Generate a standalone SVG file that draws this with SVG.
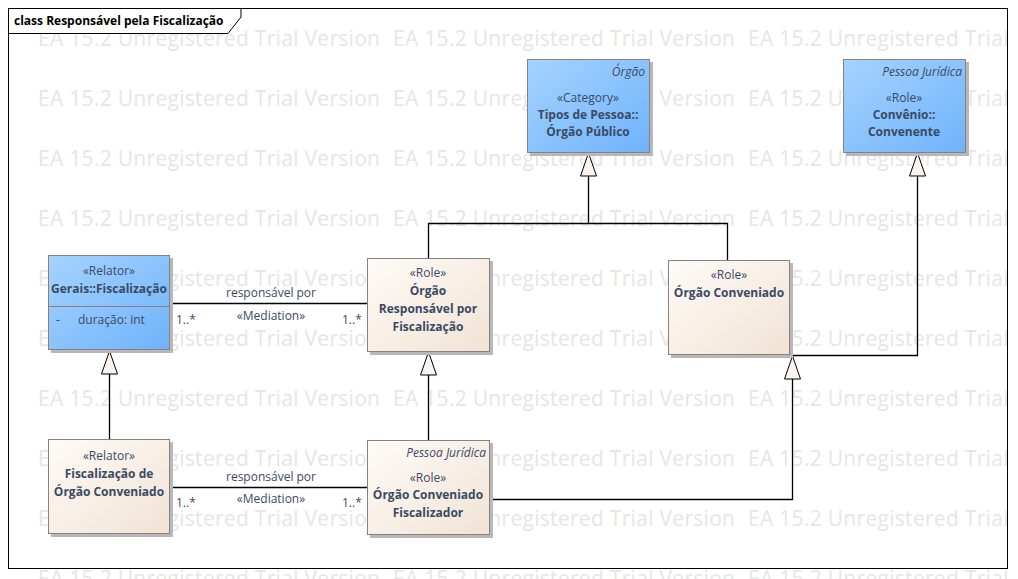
<svg xmlns="http://www.w3.org/2000/svg" width="1018" height="579" viewBox="0 0 1018 579">
<defs>
<linearGradient id="blue" x1="0" y1="0" x2="1" y2="1"><stop offset="0" stop-color="#a6d3ff"/><stop offset="1" stop-color="#6fb3fb"/></linearGradient>
<linearGradient id="beige" x1="0" y1="0" x2="1" y2="1"><stop offset="0" stop-color="#fefbf7"/><stop offset="1" stop-color="#f1e3d5"/></linearGradient>
<clipPath id="wm"><rect x="8" y="8" width="1000" height="571"/></clipPath>
<marker id="gen" markerWidth="26" markerHeight="18" refX="24" refY="9" orient="auto" markerUnits="userSpaceOnUse" viewBox="0 0 26 18"><path d="M24,9 L1,1 L1,17 Z" fill="#fbf3ee" stroke="#000" stroke-width="1"/></marker>
</defs>
<style>
.wm{font-family:"Open Sans",sans-serif;font-size:21px;fill:#e6e6e6}
.box{stroke:#8c7f7f;stroke-width:1}
.sh{fill:#b8b8b8}
.t{font-family:"Open Sans","Noto Sans",sans-serif;font-size:12px;fill:#3b4a63;text-anchor:middle}
.b{font-weight:bold}
.i{font-style:italic;text-anchor:end}
.l{font-family:"Open Sans","Noto Sans",sans-serif;font-size:12px;fill:#3b4a63}
.c{fill:none;stroke:#000;stroke-width:1.3}
</style>
<rect width="1018" height="579" fill="#fff"/>
<g clip-path="url(#wm)">
<g class="wm">
<text x="38" y="46" textLength="342">EA 15.2 Unregistered Trial Version</text><text x="393" y="46" textLength="342">EA 15.2 Unregistered Trial Version</text><text x="748" y="46" textLength="342">EA 15.2 Unregistered Trial Version</text>
<text x="38" y="106" textLength="342">EA 15.2 Unregistered Trial Version</text><text x="393" y="106" textLength="342">EA 15.2 Unregistered Trial Version</text><text x="748" y="106" textLength="342">EA 15.2 Unregistered Trial Version</text>
<text x="38" y="166" textLength="342">EA 15.2 Unregistered Trial Version</text><text x="393" y="166" textLength="342">EA 15.2 Unregistered Trial Version</text><text x="748" y="166" textLength="342">EA 15.2 Unregistered Trial Version</text>
<text x="38" y="226" textLength="342">EA 15.2 Unregistered Trial Version</text><text x="393" y="226" textLength="342">EA 15.2 Unregistered Trial Version</text><text x="748" y="226" textLength="342">EA 15.2 Unregistered Trial Version</text>
<text x="38" y="286" textLength="342">EA 15.2 Unregistered Trial Version</text><text x="393" y="286" textLength="342">EA 15.2 Unregistered Trial Version</text><text x="748" y="286" textLength="342">EA 15.2 Unregistered Trial Version</text>
<text x="38" y="346" textLength="342">EA 15.2 Unregistered Trial Version</text><text x="393" y="346" textLength="342">EA 15.2 Unregistered Trial Version</text><text x="748" y="346" textLength="342">EA 15.2 Unregistered Trial Version</text>
<text x="38" y="406" textLength="342">EA 15.2 Unregistered Trial Version</text><text x="393" y="406" textLength="342">EA 15.2 Unregistered Trial Version</text><text x="748" y="406" textLength="342">EA 15.2 Unregistered Trial Version</text>
<text x="38" y="466" textLength="342">EA 15.2 Unregistered Trial Version</text><text x="393" y="466" textLength="342">EA 15.2 Unregistered Trial Version</text><text x="748" y="466" textLength="342">EA 15.2 Unregistered Trial Version</text>
<text x="38" y="526" textLength="342">EA 15.2 Unregistered Trial Version</text><text x="393" y="526" textLength="342">EA 15.2 Unregistered Trial Version</text><text x="748" y="526" textLength="342">EA 15.2 Unregistered Trial Version</text>
<text x="38" y="586" textLength="342">EA 15.2 Unregistered Trial Version</text><text x="393" y="586" textLength="342">EA 15.2 Unregistered Trial Version</text><text x="748" y="586" textLength="342">EA 15.2 Unregistered Trial Version</text>
</g>
</g>
<rect x="8.5" y="8.5" width="999" height="560" fill="none" stroke="#000" stroke-width="1"/>
<path d="M9,9 H240.5 V17 L228,33 H9 Z" fill="#fff"/>
<path d="M8.5,33.5 H228 L241,17 V8.5" fill="none" stroke="#000" stroke-width="1"/>
<text x="14" y="25" style="font-family:'Open Sans','Noto Sans',sans-serif;font-size:12px;font-weight:bold;fill:#000">class Responsável pela Fiscalização</text>

<g id="connectors">
<path class="c" d="M170,303.5 H367"/>
<path class="c" d="M170,487.5 H367"/>
<path class="c" d="M428.5,258 V223.5 H727.5 V260"/>
<path class="c" d="M588.5,223.5 V153" marker-end="url(#gen)"/>
<path class="c" d="M109.5,439 V351" marker-end="url(#gen)"/>
<path class="c" d="M428.5,440 V352" marker-end="url(#gen)"/>
<path class="c" d="M490,499.5 H792.5 V356" marker-end="url(#gen)"/>
<path class="c" d="M790,355.5 H917.5 V153" marker-end="url(#gen)"/>
<g class="l">
<text x="271" y="297" text-anchor="middle">responsável por</text>
<text x="271" y="320" text-anchor="middle">«Mediation»</text>
<text x="176" y="324">1..*</text>
<text x="342" y="324">1..*</text>
<text x="271" y="481" text-anchor="middle">responsável por</text>
<text x="271" y="503" text-anchor="middle">«Mediation»</text>
<text x="176" y="507">1..*</text>
<text x="342" y="507">1..*</text>
</g>
</g>

<g id="gerais-fiscalizacao">
<rect class="sh" x="51" y="258" width="122" height="95"/>
<rect class="box" x="48.5" y="255.5" width="121" height="94" fill="url(#blue)"/>
<line x1="48.5" y1="306.5" x2="169.5" y2="306.5" stroke="#8c7f7f"/>
<text class="t" x="109" y="275">«Relator»</text>
<text class="t b" x="109" y="293">Gerais::Fiscalização</text>
<text class="l" x="56" y="324">-</text>
<text class="l" x="78" y="324">duração: int</text>
</g>

<g id="orgao-responsavel">
<rect class="sh" x="370" y="261" width="123" height="94"/>
<rect class="box" x="367.5" y="258.5" width="122" height="93" fill="url(#beige)"/>
<text class="t" x="428" y="277">«Role»</text>
<text class="t b" x="428" y="295">Órgão</text>
<text class="t b" x="428" y="313">Responsável por</text>
<text class="t b" x="428" y="331">Fiscalização</text>
</g>

<g id="orgao-publico">
<rect class="sh" x="530" y="62" width="123" height="94"/>
<rect class="box" x="527.5" y="59.5" width="122" height="93" fill="url(#blue)"/>
<text class="t i" x="645" y="76">Órgão</text>
<text class="t" x="588" y="102">«Category»</text>
<text class="t b" x="588" y="119">Tipos de Pessoa::</text>
<text class="t b" x="588" y="136">Órgão Público</text>
</g>

<g id="convenente">
<rect class="sh" x="846" y="62" width="123" height="94"/>
<rect class="box" x="843.5" y="59.5" width="122" height="93" fill="url(#blue)"/>
<text class="t i" x="962" y="76">Pessoa Jurídica</text>
<text class="t" x="904" y="102">«Role»</text>
<text class="t b" x="904" y="119">Convênio::</text>
<text class="t b" x="904" y="136">Convenente</text>
</g>

<g id="orgao-conveniado">
<rect class="sh" x="671" y="263" width="122" height="95"/>
<rect class="box" x="668.5" y="260.5" width="121" height="94" fill="url(#beige)"/>
<text class="t" x="729" y="279">«Role»</text>
<text class="t b" x="729" y="297">Órgão Conveniado</text>
</g>

<g id="fiscalizacao-orgao-conveniado">
<rect class="sh" x="51" y="442" width="122" height="95"/>
<rect class="box" x="48.5" y="439.5" width="121" height="94" fill="url(#beige)"/>
<text class="t" x="109" y="460">«Relator»</text>
<text class="t b" x="109" y="478">Fiscalização de</text>
<text class="t b" x="109" y="496">Órgão Conveniado</text>
</g>

<g id="orgao-conveniado-fiscalizador">
<rect class="sh" x="370" y="443" width="123" height="95"/>
<rect class="box" x="367.5" y="440.5" width="122" height="94" fill="url(#beige)"/>
<text class="t i" x="486" y="457">Pessoa Jurídica</text>
<text class="t" x="428" y="482">«Role»</text>
<text class="t b" x="428" y="499">Órgão Conveniado</text>
<text class="t b" x="428" y="517">Fiscalizador</text>
</g>
</svg>
